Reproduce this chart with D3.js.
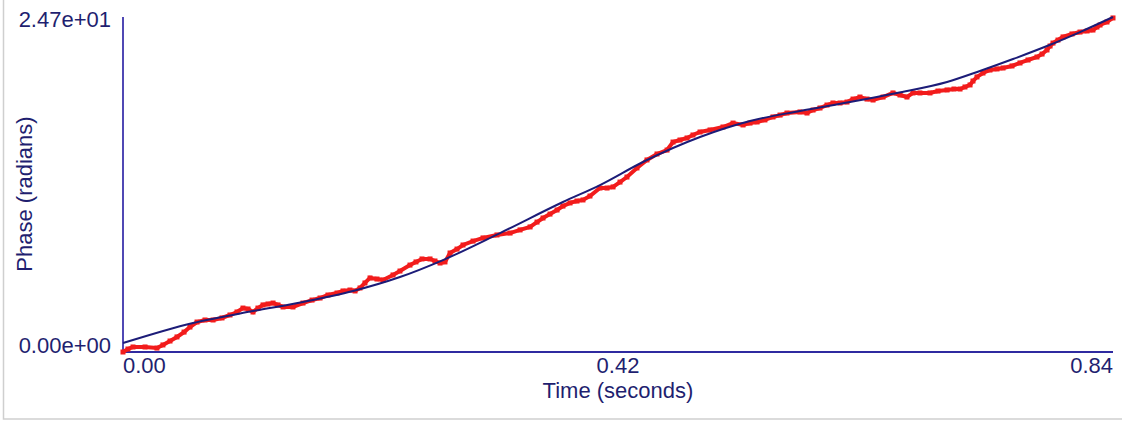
<!DOCTYPE html>
<html>
<head>
<meta charset="utf-8">
<script src="https://cdn.jsdelivr.net/npm/d3@7"></script>
<style>
  body { margin: 0; background: #fff; }
  text { font-family: "Liberation Sans", Arial, sans-serif; fill: #1f1f70; }
</style>
</head>
<body>
<div id="chart"></div>
<script>
// measured phase samples (red)
var timeData = [0.000, 0.0042, 0.0085, 0.0187, 0.0288, 0.0339, 0.0399, 0.0458, 0.0518, 0.0568,
  0.0628, 0.0696, 0.0764, 0.0840, 0.0908, 0.0967, 0.1018, 0.1061, 0.1103, 0.1145,
  0.1188, 0.1230, 0.1273, 0.1315, 0.1358, 0.1442, 0.1527, 0.1604, 0.1672, 0.1739,
  0.1816, 0.1867, 0.1926, 0.1969, 0.2011, 0.2053, 0.2096, 0.2155, 0.2206, 0.2291,
  0.2350, 0.2435, 0.2486, 0.2537, 0.2605, 0.2647, 0.2690, 0.2732, 0.2775, 0.2834,
  0.2885, 0.2970, 0.3055, 0.3173, 0.3284, 0.3369, 0.3454, 0.3513, 0.3564, 0.3623,
  0.3683, 0.3733, 0.3793, 0.3852, 0.3903, 0.3962, 0.4047, 0.4107, 0.4158, 0.4217,
  0.4276, 0.4361, 0.4446, 0.4531, 0.4616, 0.4667, 0.4726, 0.4786, 0.4836, 0.4896,
  0.4981, 0.5091, 0.5176, 0.5261, 0.5320, 0.5380, 0.5447, 0.5515, 0.5575, 0.5634,
  0.5744, 0.5804, 0.5855, 0.5914, 0.5973, 0.6024, 0.6084, 0.6143, 0.6194, 0.6253,
  0.6313, 0.6364, 0.6449, 0.6533, 0.6593, 0.6652, 0.6703, 0.6762, 0.6847, 0.6915,
  0.6992, 0.7051, 0.7102, 0.7144, 0.7187, 0.7212, 0.7246, 0.7297, 0.7356, 0.7416,
  0.7467, 0.7543, 0.7611, 0.7679, 0.7755, 0.7798, 0.7840, 0.7866, 0.7891, 0.7933,
  0.7976, 0.8052, 0.8120, 0.8180, 0.8230, 0.8264, 0.8290, 0.8349, 0.8400];
var phaseData = [0.00, 0.22, 0.37, 0.37, 0.29, 0.52, 0.81, 1.11, 1.47, 1.84,
  2.21, 2.36, 2.36, 2.51, 2.73, 2.95, 3.24, 3.17, 2.95, 3.24,
  3.47, 3.54, 3.61, 3.47, 3.32, 3.32, 3.61, 3.83, 3.98, 4.20,
  4.35, 4.50, 4.57, 4.50, 4.72, 5.09, 5.46, 5.38, 5.31, 5.68,
  5.97, 6.41, 6.64, 6.86, 6.86, 6.71, 6.56, 6.64, 7.30, 7.59,
  7.89, 8.18, 8.41, 8.63, 8.77, 9.00, 9.22, 9.58, 9.88, 10.17,
  10.47, 10.76, 10.99, 11.13, 11.21, 11.50, 12.09, 12.09, 12.17, 12.53,
  12.90, 13.57, 14.16, 14.60, 14.89, 15.48, 15.63, 15.78, 16.00, 16.22,
  16.37, 16.59, 16.88, 16.74, 16.88, 16.96, 17.11, 17.33, 17.47, 17.62,
  17.70, 17.62, 17.84, 17.99, 18.21, 18.36, 18.36, 18.43, 18.65, 18.80,
  18.65, 18.58, 18.80, 19.10, 18.95, 18.80, 19.10, 19.10, 19.10, 19.24,
  19.32, 19.39, 19.39, 19.54, 19.69, 19.98, 20.28, 20.57, 20.79, 20.87,
  20.94, 21.09, 21.31, 21.53, 21.75, 21.97, 22.27, 22.56, 22.78, 23.00,
  23.23, 23.45, 23.59, 23.67, 23.74, 23.96, 24.11, 24.33, 24.63];

// fitted curve (blue)
var fitTime = [0.000, 0.0594, 0.1103, 0.1527, 0.1952, 0.2350, 0.2715, 0.3199, 0.3733, 0.4047,
  0.4412, 0.4896, 0.5320, 0.5744, 0.6168, 0.6567, 0.6992, 0.7271, 0.7552, 0.7840, 0.8120, 0.8400];
var fitPhase = [0.66, 2.14, 3.02, 3.69, 4.50, 5.53, 6.78, 8.77, 11.06, 12.31,
  14.01, 15.85, 17.03, 17.77, 18.43, 19.10, 19.91, 20.72, 21.60, 22.56, 23.59, 24.70];

var xTicks = [0, 0.42, 0.84];
var yTicks = [0, 24.7];

var svgWidth = 1122, svgHeight = 423;
var margin = {top: 17, right: 9, bottom: 71, left: 123};
var chartWidth = svgWidth - margin.left - margin.right;
var chartHeight = svgHeight - margin.top - margin.bottom;

var xScale = d3.scaleLinear().domain([0, 0.84]).range([0, chartWidth]);
var yScale = d3.scaleLinear().domain([0, 24.7]).range([chartHeight, 0]);

var svg = d3.select('#chart').append('svg')
  .attr('width', svgWidth)
  .attr('height', svgHeight);

// frame around the picture
svg.append('rect')
  .attr('x', 3.5).attr('y', -5)
  .attr('width', svgWidth + 10).attr('height', 424)
  .attr('fill', 'none')
  .attr('stroke', '#cfcfcf')
  .attr('stroke-width', 1.5);

var g = svg.append('g')
  .attr('transform', `translate(${margin.left}, ${margin.top})`);

// axes (lines only, labels placed by hand below)
g.append('line')
  .attr('x1', 0).attr('x2', 0)
  .attr('y1', 0).attr('y2', chartHeight)
  .attr('stroke', '#5048b4').attr('stroke-width', 2);
g.append('line')
  .attr('x1', 0).attr('x2', chartWidth)
  .attr('y1', chartHeight).attr('y2', chartHeight)
  .attr('stroke', '#2f2aa0').attr('stroke-width', 2);

var measured = timeData.map((t, i) => ({t: t, p: phaseData[i]}));
var fit = fitTime.map((t, i) => ({t: t, p: fitPhase[i]}));

g.append('path')
  .datum(measured)
  .attr('fill', 'none')
  .attr('stroke', '#f21c1c')
  .attr('stroke-width', 4)
  .attr('d', d3.line().x(d => xScale(d.t)).y(d => yScale(d.p)));

g.selectAll('rect.pt')
  .data(measured)
  .enter()
  .append('rect')
  .classed('pt', true)
  .attr('x', d => xScale(d.t) - 2.5)
  .attr('y', d => yScale(d.p) - 2.5)
  .attr('width', 5).attr('height', 5)
  .attr('fill', '#f21c1c');

g.append('path')
  .datum(fit)
  .attr('fill', 'none')
  .attr('stroke', '#1c1c78')
  .attr('stroke-width', 2)
  .attr('d', d3.line().curve(d3.curveMonotoneX).x(d => xScale(d.t)).y(d => yScale(d.p)));

// y tick labels
g.append('text')
  .attr('x', -12).attr('y', yScale(yTicks[1]) + 10)
  .attr('text-anchor', 'end')
  .style('font-size', '22px')
  .text(d3.format('.2e')(yTicks[1]).replace('e+1', 'e+01'));
g.append('text')
  .attr('x', -12).attr('y', yScale(yTicks[0]) + 1)
  .attr('text-anchor', 'end')
  .style('font-size', '22px')
  .text('0.00e+00');

// x tick labels
var anchors = ['start', 'middle', 'end'];
g.selectAll('text.xtick')
  .data(xTicks)
  .enter()
  .append('text')
  .classed('xtick', true)
  .attr('x', d => xScale(d))
  .attr('y', chartHeight + 21)
  .attr('text-anchor', (d, i) => anchors[i])
  .style('font-size', '22px')
  .text(d => d3.format('.2f')(d));

// axis titles
g.append('text')
  .attr('x', chartWidth / 2)
  .attr('y', chartHeight + 46)
  .attr('text-anchor', 'middle')
  .style('font-size', '22px')
  .text('Time (seconds)');

g.append('text')
  .attr('transform', `translate(${32 - margin.left}, ${177}) rotate(-90)`)
  .attr('text-anchor', 'middle')
  .style('font-size', '22px')
  .text('Phase (radians)');
</script>
</body>
</html>
